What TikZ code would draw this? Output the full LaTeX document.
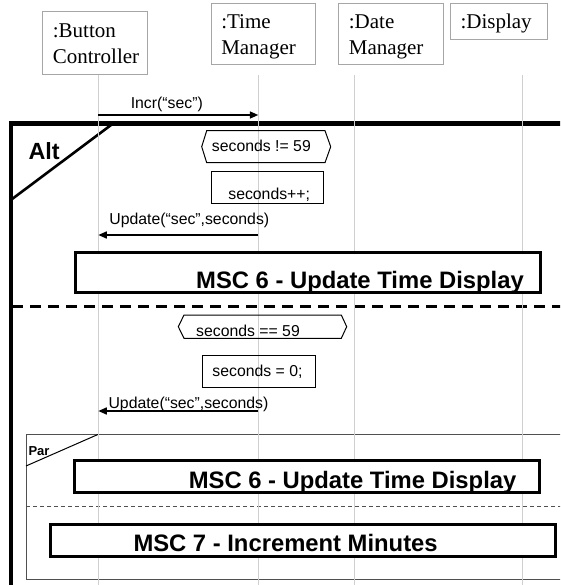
\documentclass[tikz,border=0pt]{standalone}
\usepackage{fontspec}
\setmainfont{Liberation Serif}
\newfontfamily\arialf{Liberation Sans}
\usetikzlibrary{arrows.meta}
\definecolor{hdrgray}{HTML}{A6A6A6}
\definecolor{lifegray}{HTML}{CFCFCF}
\definecolor{pargray}{HTML}{505050}
\begin{document}
\begin{tikzpicture}[x=1pt,y=-1pt,
  hdr/.style={draw=hdrgray, line width=1.1pt, align=left, inner xsep=10pt, inner ysep=0pt,
    anchor=north west, text height=14pt, font=\fontsize{21}{26}\selectfont},
  twoline/.style={text depth=26pt},
  oneline/.style={text depth=0pt},
  life/.style={draw=lifegray, line width=0.9pt},
  msg/.style={line width=1.6pt, -{Triangle[length=8.5pt,width=7pt]}},
  lbl/.style={font=\arialf\fontsize{15.8}{18}\selectfont, inner sep=0pt, anchor=base},
  guard/.style={draw, line width=1pt, line join=miter},
  actbox/.style={draw, line width=1.2pt, inner sep=0pt, anchor=north west},
  refbox/.style={draw, fill=white, line width=3pt, inner sep=0pt, anchor=north west},
  reftxt/.style={font=\arialf\bfseries\fontsize{23.8}{26}\selectfont, inner sep=0pt, anchor=base west},
  altframe/.style={line width=4.5pt},
  parframe/.style={draw=pargray, line width=1pt},
  oplbl/.style={inner sep=0pt, anchor=base west}
]
\useasboundingbox (0,0) rectangle (560,585);
\clip (0,0) rectangle (560,585);
\fill[white] (0,0) rectangle (560,585);

% header boxes
\node[hdr, twoline, text width=84.4pt, minimum height=63.6pt] (bc) at (42.3,10.7) {:Button\\Controller};
\node[hdr, twoline, text width=84.3pt, minimum height=61.6pt] (tm) at (210.7,2.7) {:Time\\Manager};
\node[hdr, twoline, text width=84.4pt, minimum height=61.6pt] (dm) at (338.3,2.7) {:Date\\Manager};
\node[hdr, oneline, text width=76.7pt, minimum height=36.6pt] (dp) at (450,2.7) {:Display};

% lifeline coordinates
\coordinate (bcT) at (98.3,75);  \coordinate (bcB) at (98.3,585);
\coordinate (tmT) at (258.3,75); \coordinate (tmB) at (258.3,585);
\coordinate (dmT) at (354.7,75); \coordinate (dmB) at (354.7,585);
\coordinate (dpT) at (522.7,75); \coordinate (dpB) at (522.7,585);

% Alt frame
\coordinate (altBL) at (10.8,600);
\coordinate (altTL) at (10.8,123.3);
\coordinate (altTR) at (575,123.3);
\draw[altframe, line cap=butt, line join=miter] (altBL) -- (altTL) -- (altTR);
\coordinate (altD1) at (113.3,123.3);
\coordinate (altD2) at (10.8,200);
\draw[line width=2.6pt] (altD1) -- (altD2);
\node[oplbl, font=\arialf\bfseries\fontsize{23.4}{26}\selectfont] (altl) at (28.3,160) {Alt};
\coordinate (altS1) at (12,306.5);
\coordinate (altS2) at (575,306.5);
\draw[line width=3.5pt, dash pattern=on 11pt off 7pt] (altS1) -- (altS2);

% Par frame (open on the right, runs off the picture)
\coordinate (parTR) at (575,434.3);
\coordinate (parTL) at (26,434.3);
\coordinate (parBL) at (26,579);
\coordinate (parBR) at (575,579);
\draw[parframe] (parTR) -- (parTL) -- (parBL) -- (parBR);
\coordinate (parD1) at (98.3,434.3);
\coordinate (parD2) at (26,466);
\draw[parframe, draw=black] (parD1) -- (parD2);
\node[oplbl, font=\arialf\bfseries\fontsize{13}{15}\selectfont] (parl) at (28.3,455) {Par};
\coordinate (parS1) at (26,506.7);
\coordinate (parS2) at (575,506.7);
\draw[parframe, line width=0.9pt, dash pattern=on 4pt off 3pt] (parS1) -- (parS2);

% lifelines
\draw[life] (bcT) -- (bcB);
\draw[life] (tmT) -- (tmB);
\draw[life] (dmT) -- (dmB);
\draw[life] (dpT) -- (dpB);

% messages
\coordinate (m1a) at (98.3,115);  \coordinate (m1b) at (258.3,115);
\draw[msg] (m1a) -- (m1b);
\node[lbl] (m1l) at (166.8,108.3) {Incr(“sec”)};

\draw[guard] (201.7,146.7) -- (206.7,130.7) -- (325,130.7) -- (330.7,146.7) -- (325,162.7) -- (206.7,162.7) -- cycle;
\node[lbl] (g1) at (261.4,151.7) {seconds != 59};

\node[actbox, minimum width=112pt, minimum height=32pt] (inc) at (210.7,170.7) {};
\node[lbl] (inct) at (269.2,199.3) {seconds++;};

\coordinate (m2a) at (258.3,235); \coordinate (m2b) at (98.3,235);
\draw[msg] (m2a) -- (m2b);
\node[lbl] (m2l) at (189.3,224.5) {Update(“sec”,seconds)};

\node[refbox, minimum width=465pt, minimum height=40.3pt] (r1) at (74,250.7) {};
\node[reftxt] (r1t) at (196,288.3) {MSC 6 - Update Time Display};

\draw[guard] (178.3,326.7) -- (184,315) -- (341.3,315) -- (346.7,326.7) -- (341.3,338.3) -- (184,338.3) -- cycle;
\node[lbl] (g2) at (248,336) {seconds == 59};

\node[actbox, minimum width=113.3pt, minimum height=31.7pt] (zero) at (201.7,355) {};
\node[lbl] (zerot) at (257.5,376) {seconds = 0;};

\coordinate (m3a) at (258.3,411); \coordinate (m3b) at (98.3,411);
\draw[msg] (m3a) -- (m3b);
\node[lbl] (m3l) at (188.5,408.3) {Update(“sec”,seconds)};

\node[refbox, minimum width=464.7pt, minimum height=31.4pt] (r2) at (73.3,459.3) {};
\node[reftxt] (r2t) at (188.6,488.3) {MSC 6 - Update Time Display};

\node[refbox, minimum width=505pt, minimum height=32.6pt] (r3) at (49.3,522.7) {};
\node[reftxt] (r3t) at (133.3,551.7) {MSC 7 - Increment Minutes};
\end{tikzpicture}
\end{document}
